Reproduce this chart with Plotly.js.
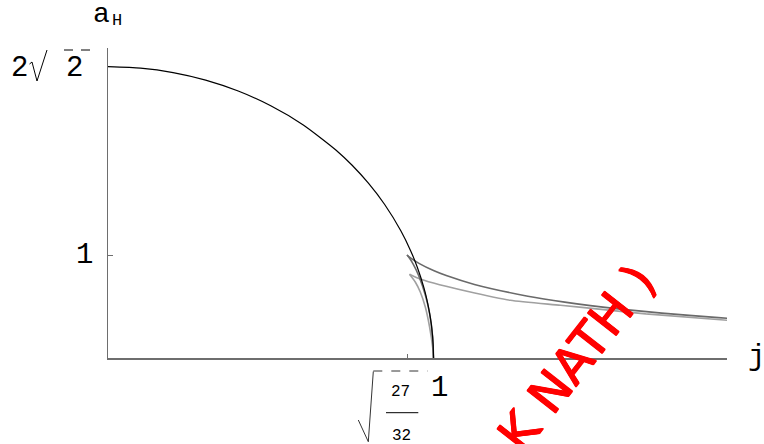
<!DOCTYPE html>
<html>
<head>
<meta charset="utf-8">
<script src="https://cdn.plot.ly/plotly-3.0.1.min.js"></script>
<style>html,body{margin:0;padding:0;background:#fff;}#chart{width:764px;height:444px;}</style>
</head>
<body>
<div id="chart"></div>
<script>
// Myers-Perry black hole
const mpJ = [0, 0.1, 0.2, 0.3, 0.4, 0.5, 0.6, 0.7, 0.75, 0.8, 0.85, 0.9, 0.93, 0.95, 0.97, 0.98, 0.99, 0.995, 0.999, 1.0];
const mpA = [2.828, 2.814, 2.771, 2.698, 2.592, 2.449, 2.263, 2.020, 1.871, 1.697, 1.490, 1.233, 1.040, 0.883, 0.688, 0.563, 0.399, 0.283, 0.126, 0];
// Black ring (dark gray): fat branch and thin branch
const ringFatJ = [1.0, 0.9975, 0.9878, 0.976, 0.9546, 0.9367, 0.9238, 0.9186];
const ringFatA = [0, 0.199, 0.436, 0.6, 0.8, 0.9165, 0.9798, 1.0];
const ringThinJ = [0.9186, 0.926, 0.9568, 1.0, 1.0392, 1.1258, 1.2899, 1.403, 1.5752, 1.7012, 1.8749, 1.9026];
const ringThinA = [1.0, 0.9798, 0.9165, 0.849, 0.8, 0.7141, 0.6, 0.5426, 0.475, 0.4359, 0.3919, 0.386];
// Second ring family (light gray)
const ring2FatJ = [1.0, 0.9973, 0.988, 0.9748, 0.9594, 0.944, 0.9263];
const ring2FatA = [0, 0.107, 0.301, 0.495, 0.641, 0.738, 0.813];
const ring2ThinJ = [0.9263, 0.949, 1.0, 1.103, 1.236, 1.39, 1.523, 1.652, 1.9026];
const ring2ThinA = [0.813, 0.780, 0.728, 0.648, 0.560, 0.512, 0.470, 0.428, 0.366];
// ticks
const xTickVals = [0.9186];
const yTickVals = [1];

const W = 764, H = 444, L = 108, R = 37, T = 48, B = 86;
const PW = W - L - R, PH = H - T - B;
const px = X => (X - L) / PW;
const py = Y => (H - B - Y) / PH;

const axisColor = '#6e6e6e';
const mono = 'Liberation Mono, Courier New, monospace';

function line(x, y, color, width) {
  return {x: x, y: y, type: 'scatter', mode: 'lines', hoverinfo: 'skip',
          line: {color: color, width: width, shape: 'spline', smoothing: 0.6}, cliponaxis: false};
}
const traces = [
  line(ring2FatJ, ring2FatA, '#a0a0a0', 1.6),
  line(ring2ThinJ, ring2ThinA, '#a0a0a0', 1.6),
  line(ringFatJ, ringFatA, '#6a6a6a', 1.6),
  line(ringThinJ, ringThinA, '#6a6a6a', 1.6),
  line(mpJ, mpA, '#000000', 1.2)
];

function ann(text, X, Y, size, extra) {
  return Object.assign({text: text, xref: 'paper', yref: 'paper', x: px(X), y: py(Y),
    xanchor: 'center', yanchor: 'middle', showarrow: false,
    font: {family: mono, size: size, color: '#000'}}, extra || {});
}

const annotations = [
  ann('a', 101.5, 14, 28),
  ann('H', 117, 21, 17),
  ann('2', 19.5, 68, 29),
  ann('2', 74.5, 68, 29),
  ann('1', 84, 255, 29),
  ann('27', 400, 392, 16),
  ann('32', 401, 436, 16),
  ann('1', 439, 388, 29),
  ann('j', 756, 357, 29),
  {text: 'K NATH )', xref: 'paper', yref: 'paper', x: px(577), y: py(358),
   xanchor: 'center', yanchor: 'middle', showarrow: false, textangle: -52,
   font: {family: 'DejaVu Sans, Verdana, sans-serif', size: 50, color: '#ff0000',
          shadow: '0.6px 0 0 #ff0000, -0.6px 0 0 #ff0000, 0 0.6px 0 #ff0000, 0 -0.6px 0 #ff0000'}}
];

function pathOf(pts) {
  return pts.map((p, i) => (i ? 'L' : 'M') + px(p[0]) + ',' + py(p[1])).join(' ');
}

const shapes = [
  // fraction bar of 27/32
  {type: 'line', xref: 'paper', yref: 'paper', x0: px(386), x1: px(418.3), y0: py(412.7), y1: py(412.7),
   line: {color: '#000', width: 1}},
  // radical of the x tick label
  {type: 'path', xref: 'paper', yref: 'paper',
   path: pathOf([[358.3, 420], [368.3, 441.7], [373.3, 371.5]]),
   line: {color: '#000', width: 0.8}},
  {type: 'line', xref: 'paper', yref: 'paper', x0: px(373.3), x1: px(427.7), y0: py(371), y1: py(371),
   line: {color: '#000', width: 0.8, dash: 'dash'}},
  // radical of the y tick label 2√2
  {type: 'path', xref: 'paper', yref: 'paper',
   path: pathOf([[29.5, 64], [32, 62], [37, 81], [47, 50]]),
   line: {color: '#000', width: 1}},
  {type: 'line', xref: 'paper', yref: 'paper', x0: px(64), x1: px(90), y0: py(50), y1: py(50),
   line: {color: '#000', width: 1, dash: '9px,8px'}}
];

const layout = {
  width: W, height: H,
  margin: {l: L, r: R, t: T, b: B},
  paper_bgcolor: '#fff', plot_bgcolor: '#fff',
  showlegend: false,
  xaxis: {range: [0, PW / 325.5], showline: true, linecolor: axisColor, linewidth: 1.5,
          showgrid: false, zeroline: false, ticks: 'inside', tickvals: xTickVals, ticklen: 4,
          tickcolor: axisColor, tickwidth: 1, showticklabels: false, fixedrange: true},
  yaxis: {range: [0, PH / 103], showline: true, linecolor: axisColor, linewidth: 1.5,
          showgrid: false, zeroline: false, ticks: 'inside', tickvals: yTickVals, ticklen: 5,
          tickcolor: axisColor, tickwidth: 1, showticklabels: false, fixedrange: true},
  annotations: annotations,
  shapes: shapes
};

Plotly.newPlot('chart', traces, layout, {displayModeBar: false, staticPlot: true});
</script>
</body>
</html>
